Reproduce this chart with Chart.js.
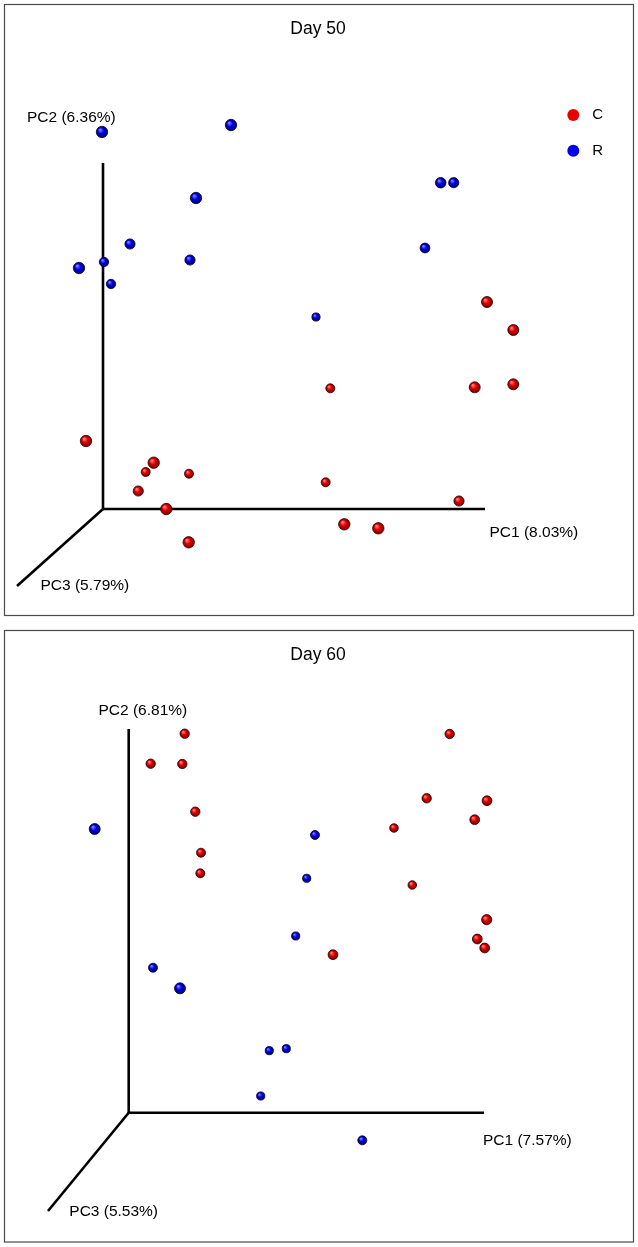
<!DOCTYPE html>
<html>
<head>
<meta charset="utf-8">
<script src="https://cdn.jsdelivr.net/npm/chart.js@4.4.1/dist/chart.umd.min.js"></script>
<style>
    body { margin: 0; background: #fff; }
    canvas { position: absolute; left: 0; }
    #day50Chart { top: 0; }
    #day60Chart { top: 622px; }
</style>
</head>
<body>
<canvas id="day50Chart" width="638" height="622"></canvas>
<canvas id="day60Chart" width="638" height="625"></canvas>
<script>
// samples as [x, y, depth] in projected plot units; depth (PC3) only changes marker size
const groups = ['C', 'R'];

const day50C = [
    [86, 441, 0.9], [153.7, 462.7, 0.9], [145.7, 472, 0.3], [189, 473.7, 0.3],
    [138.3, 491, 0.6], [166.3, 509, 0.9], [188.7, 542.3, 0.9], [487, 302, 0.8],
    [513.3, 330, 0.8], [330.3, 388.3, 0.3], [474.7, 387.3, 0.8], [513.3, 384.3, 0.8],
    [325.7, 482.3, 0.3], [459, 501, 0.6], [344.3, 524.3, 0.9], [378.3, 528.3, 0.9]
];
const day50R = [
    [102, 132, 0.9], [231, 125, 0.9], [196, 198, 0.9], [130, 244, 0.6],
    [104, 262, 0.4], [79, 268, 0.9], [190, 260, 0.6], [111, 284, 0.4],
    [316, 317, 0.1], [440.7, 182.7, 0.7], [453.7, 182.7, 0.6], [425, 248, 0.5]
];
const day60C = [
    [184.7, 733.7, 0.4], [150.7, 763.7, 0.4], [182.3, 764, 0.4], [195.3, 811.7, 0.4],
    [201, 852.7, 0.3], [200.3, 873.3, 0.3], [449.7, 734, 0.4], [426.7, 798.3, 0.4],
    [487, 800.7, 0.5], [474.7, 819.7, 0.5], [394, 828, 0.2], [412.3, 885, 0.2],
    [486.7, 919.7, 0.6], [477.3, 939, 0.5], [484.7, 948, 0.5], [333, 954.7, 0.5]
];
const day60R = [
    [94.7, 829, 0.8], [315, 835, 0.3], [306.7, 878.3, 0.1], [295.7, 936, 0.1],
    [153, 967.7, 0.3], [180, 988.3, 0.8], [269.3, 1050.7, 0.1], [286.3, 1048.7, 0.1],
    [260.7, 1096, 0.1], [362.3, 1140.3, 0.3]
];

// projected axes: PC2 end, origin, PC1 end, PC3 end
const day50Axes = [[103, 163], [103, 509], [485, 509], [17, 586]];
const day60Axes = [[128.7, 729], [128.7, 1112.7], [484, 1112.7], [48, 1211]];

const day50AxisLabels = ['PC1 (8.03%)', 'PC2 (6.36%)', 'PC3 (5.79%)'];
const day60AxisLabels = ['PC1 (7.57%)', 'PC2 (6.81%)', 'PC3 (5.53%)'];

const FONT = "'Liberation Sans', Arial, Helvetica, sans-serif";

function toPoints(arr) {
    return arr.map(p => ({ x: p[0], y: p[1], z: p[2] }));
}

function markerRadius(ctx) {
    return ctx.raw && ctx.raw.z !== undefined ? 3.9 + 2 * ctx.raw.z : 5;
}

function sphereFill(base, light, dark) {
    return function (ctx) {
        const chart = ctx.chart;
        if (ctx.type !== 'data' || !ctx.raw || !chart.scales.x || !chart.scales.y) return base;
        const x = chart.scales.x.getPixelForValue(ctx.raw.x);
        const y = chart.scales.y.getPixelForValue(ctx.raw.y);
        if (!isFinite(x) || !isFinite(y)) return base;
        const r = markerRadius(ctx);
        const g = chart.ctx.createRadialGradient(x - r * 0.35, y - r * 0.4, r * 0.1, x, y, r);
        g.addColorStop(0, light);
        g.addColorStop(0.45, base);
        g.addColorStop(1, dark);
        return g;
    };
}

const decorPlugin = {
    id: 'decor',
    beforeDatasetsDraw(chart, args, opts) {
        const ctx = chart.ctx, sx = chart.scales.x, sy = chart.scales.y;
        const b = opts.box;
        ctx.save();
        ctx.strokeStyle = '#4a4a4a';
        ctx.lineWidth = 1.2;
        ctx.strokeRect(sx.getPixelForValue(b[0]), sy.getPixelForValue(b[1]),
            sx.getPixelForValue(b[2]) - sx.getPixelForValue(b[0]),
            sy.getPixelForValue(b[3]) - sy.getPixelForValue(b[1]));
        ctx.restore();
    },
    afterDatasetsDraw(chart, args, opts) {
        const ctx = chart.ctx, sx = chart.scales.x, sy = chart.scales.y;
        ctx.save();
        ctx.fillStyle = '#000';
        ctx.textBaseline = 'middle';

        ctx.font = '17.5px ' + FONT;
        ctx.textAlign = 'center';
        ctx.fillText(opts.title, sx.getPixelForValue(opts.titlePos[0]), sy.getPixelForValue(opts.titlePos[1]));

        ctx.font = '15.5px ' + FONT;
        ctx.textAlign = 'left';
        opts.labels.forEach((txt, i) => {
            const p = opts.labelPos[i];
            ctx.fillText(txt, sx.getPixelForValue(p[0]), sy.getPixelForValue(p[1]));
        });

        if (opts.legend) {
            const lg = opts.legend;
            groups.forEach((g, i) => {
                const x = sx.getPixelForValue(lg.x);
                const y = sy.getPixelForValue(lg.y + i * lg.step);
                ctx.beginPath();
                ctx.arc(x, y, 6, 0, Math.PI * 2);
                ctx.fillStyle = lg.colors[i];
                ctx.fill();
                ctx.fillStyle = '#000';
                ctx.font = '15px ' + FONT;
                ctx.fillText(g, x + 19, y);
            });
        }
        ctx.restore();
    }
};

function createPcoaChart(canvasId, cPoints, rPoints, axes, yRange, decor) {
    const canvas = document.getElementById(canvasId);
    if (!canvas) {
        console.error('canvas element ' + canvasId + ' not found');
        return;
    }
    const axisLine = (pts) => ({
        type: 'line',
        data: pts.map(p => ({ x: p[0], y: p[1] })),
        borderColor: '#000',
        borderWidth: 2.6,
        borderCapStyle: 'butt',
        pointRadius: 0,
        fill: false,
        order: 3
    });

    new Chart(canvas.getContext('2d'), {
        type: 'scatter',
        data: {
            datasets: [
                {
                    label: groups[0],
                    data: toPoints(cPoints),
                    backgroundColor: sphereFill('#e00000', '#ff7a7a', '#7a0000'),
                    borderColor: '#2a0000',
                    borderWidth: 0.8,
                    pointRadius: markerRadius,
                    order: 1
                },
                {
                    label: groups[1],
                    data: toPoints(rPoints),
                    backgroundColor: sphereFill('#0000e6', '#7a7aff', '#00006e'),
                    borderColor: '#00002a',
                    borderWidth: 0.8,
                    pointRadius: markerRadius,
                    order: 1
                },
                axisLine([axes[0], axes[1], axes[2]]),
                axisLine([axes[1], axes[3]])
            ]
        },
        options: {
            responsive: false,
            animation: false,
            events: [],
            layout: { padding: 0, autoPadding: false },
            scales: {
                x: { type: 'linear', min: 0, max: 638, display: false },
                y: { type: 'linear', min: yRange[0], max: yRange[1], reverse: true, display: false }
            },
            plugins: {
                legend: { display: false },
                tooltip: { enabled: false },
                decor: decor
            }
        },
        plugins: [decorPlugin]
    });
}

document.addEventListener('DOMContentLoaded', function () {
    createPcoaChart('day50Chart', day50C, day50R, day50Axes, [0, 622], {
        box: [4.5, 4.5, 633.5, 615.5],
        title: 'Day 50',
        titlePos: [318, 29.5],
        labels: day50AxisLabels,
        labelPos: [[489.5, 533], [27, 117.5], [40.5, 586]],
        legend: { x: 573.3, y: 115, step: 35.7, colors: ['#e60000', '#0000f0'] }
    });

    createPcoaChart('day60Chart', day60C, day60R, day60Axes, [622, 1247], {
        box: [4.5, 630.5, 633.5, 1242],
        title: 'Day 60',
        titlePos: [318, 655],
        labels: day60AxisLabels,
        labelPos: [[483, 1141], [98.5, 710.5], [69.3, 1212]],
        legend: null
    });
});
</script>
</body>
</html>
